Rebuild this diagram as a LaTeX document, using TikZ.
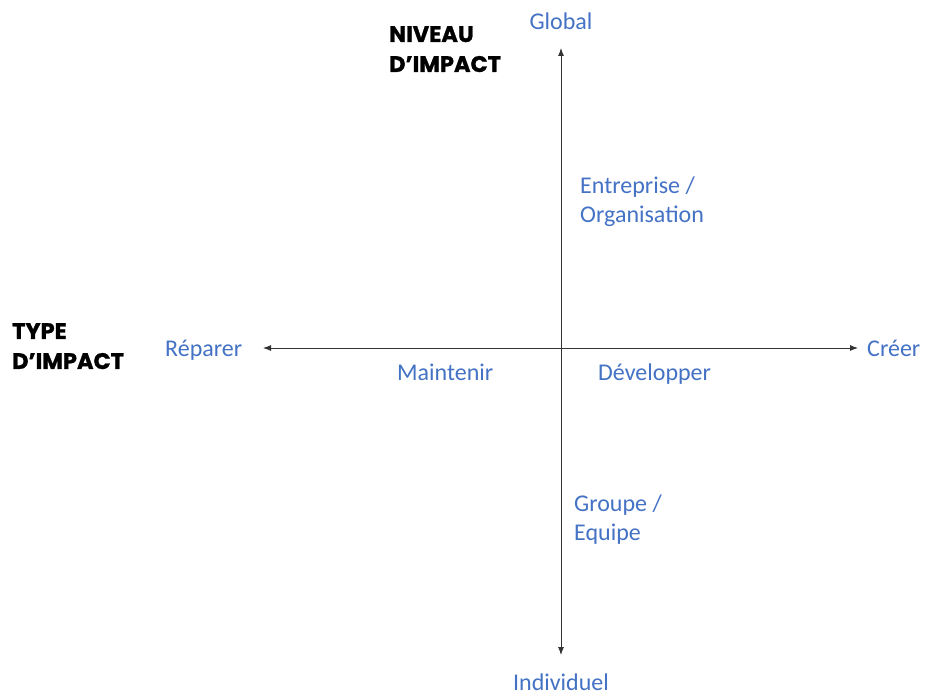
\documentclass[tikz,border=0pt]{standalone}
\usepackage{fontspec}
\setmainfont{Carlito}
\newfontfamily\titlefont{Poppins}[UprightFont=* Bold, FakeBold=1.2]
\usetikzlibrary{arrows.meta}
\definecolor{lblue}{HTML}{4472C4}
\tikzset{
  lbl/.style={text=lblue, font=\fontsize{24}{28.5}\selectfont, inner sep=0pt, align=left},
  ttl/.style={text=black, font=\titlefont\fontsize{22.5}{30}\selectfont, inner sep=0pt, align=left},
  axis/.style={draw=black!80, line width=0.9pt},
  tip/.tip={Latex[length=8pt,width=6pt]},
}
\begin{document}
\begin{tikzpicture}[x=1pt,y=-1pt]
\useasboundingbox[fill=white] (0,0) rectangle (925,695);
\coordinate (vtop) at (561,48);
\coordinate (vbot) at (561,655);
\coordinate (hleft) at (263,348);
\coordinate (hright) at (858,348);
\draw[axis, tip-tip] (vtop) -- (vbot);
\draw[axis, tip-tip] (hleft) -- (hright);
\node[lbl, anchor=base] (global) at (561,30) {Global};
\node[lbl, anchor=base] (indiv) at (561,690) {Individuel};
\node[lbl, anchor=base west] (repar) at (165,356) {Réparer};
\node[lbl, anchor=base west] (creer) at (867,356) {Créer};
\node[lbl, anchor=base west] (maint) at (397,380) {Maintenir};
\node[lbl, anchor=base west] (devel) at (598,380) {Développer};
\node[lbl, anchor=north west] (entre) at (580,177) {Entreprise /\\Organisation};
\node[lbl, anchor=north west] (group) at (574,495) {Groupe /\\Equipe};
\node[ttl, anchor=north west] (niveau) at (389,26) {NIVEAU\\D’IMPACT};
\node[ttl, anchor=north west] (type) at (12,323) {TYPE\\D’IMPACT};
\end{tikzpicture}
\end{document}
